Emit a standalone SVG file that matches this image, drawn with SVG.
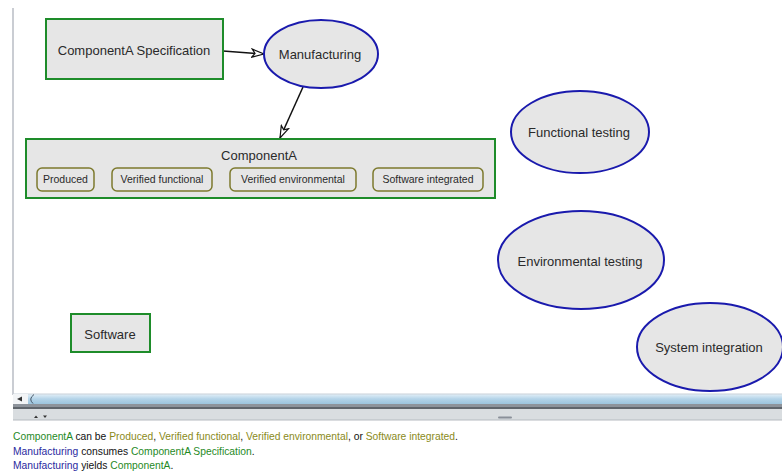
<svg xmlns="http://www.w3.org/2000/svg" width="782" height="475" viewBox="0 0 782 475">
<defs>
<style>
.obj{fill:#e6e6e6;stroke:#1e8c2a;stroke-width:2}
.proc{fill:#e6e6e6;stroke:#1a1aad;stroke-width:2}
.state{fill:#e6e6e6;stroke:#7d7a2e;stroke-width:1.5}
.lbl{font-family:"Liberation Sans",Arial,sans-serif;font-size:13px;fill:#2a2a2a;text-anchor:middle}
.slbl{font-family:"Liberation Sans",Arial,sans-serif;font-size:10.5px;fill:#2a2a2a;text-anchor:middle}
.link{stroke:#111;stroke-width:1.5;fill:none}
.opl{font-family:"Liberation Sans",Arial,sans-serif;font-size:10.3px;fill:#111}
.g{fill:#1f8a1f}.b{fill:#2a2aa0}.o{fill:#8a8a1a}
</style>
<marker id="ah" viewBox="0 0 14 10" refX="13" refY="5" markerWidth="14" markerHeight="10" markerUnits="userSpaceOnUse" orient="auto">
<path d="M1,1 L13,5 L1,9 L4,5 Z" fill="#fff" stroke="#111" stroke-width="1.2"/>
</marker>
<linearGradient id="sb" x1="0" y1="0" x2="0" y2="1">
<stop offset="0" stop-color="#e4f0f8"/>
<stop offset="0.5" stop-color="#b3d3e8"/>
<stop offset="1" stop-color="#9cc4dd"/>
</linearGradient>
</defs>
<rect width="782" height="475" fill="#fff"/>
<line x1="13" y1="8" x2="13" y2="395" stroke="#b8bcc4" stroke-width="1.5"/>
<g id="connectors">
<line class="link" x1="223" y1="51" x2="264" y2="54" marker-end="url(#ah)"/>
<line class="link" x1="303" y1="87" x2="280" y2="138" marker-end="url(#ah)"/>
</g>
<g id="componentA-spec">
<rect class="obj" x="46" y="19" width="177" height="60"/>
<text class="lbl" x="134" y="55">ComponentA Specification</text>
</g>
<g id="manufacturing">
<ellipse class="proc" cx="321" cy="54" rx="57" ry="34"/>
<text class="lbl" x="320" y="59">Manufacturing</text>
</g>
<g id="componentA">
<rect class="obj" x="26" y="139" width="469" height="59"/>
<text class="lbl" x="259" y="160">ComponentA</text>
<g id="state-produced">
<rect class="state" x="37" y="168" width="57" height="23" rx="5"/>
<text class="slbl" x="65.5" y="183">Produced</text>
</g>
<g id="state-verified-functional">
<rect class="state" x="112" y="168" width="100" height="23" rx="5"/>
<text class="slbl" x="162" y="183">Verified functional</text>
</g>
<g id="state-verified-environmental">
<rect class="state" x="230" y="168" width="126" height="23" rx="5"/>
<text class="slbl" x="293" y="183">Verified environmental</text>
</g>
<g id="state-software-integrated">
<rect class="state" x="373" y="168" width="110" height="23" rx="5"/>
<text class="slbl" x="428" y="183">Software integrated</text>
</g>
</g>
<g id="functional-testing">
<ellipse class="proc" cx="580" cy="132" rx="69" ry="41"/>
<text class="lbl" x="579" y="137">Functional testing</text>
</g>
<g id="environmental-testing">
<ellipse class="proc" cx="581" cy="260" rx="83" ry="49"/>
<text class="lbl" x="580" y="266">Environmental testing</text>
</g>
<g id="system-integration">
<ellipse class="proc" cx="710" cy="347" rx="73" ry="44"/>
<text class="lbl" x="709" y="352">System integration</text>
</g>
<g id="software">
<rect class="obj" x="71" y="314" width="79" height="38"/>
<text class="lbl" x="110" y="339">Software</text>
</g>
<g id="scrollbar">
<rect x="13" y="394" width="769" height="10" fill="url(#sb)"/>
<line x1="13" y1="394" x2="782" y2="394" stroke="#c8d0d8"/>
<rect x="13" y="394" width="15" height="10" fill="#f2f4f6"/>
<path d="M17,399 L22,396.5 L22,401.5 Z" fill="#333"/>
<path d="M34,394.5 Q28,399 33,403.5" fill="none" stroke="#456" stroke-width="1"/>
<rect x="13" y="404" width="769" height="3" fill="#8d939b"/>
<rect x="13" y="407" width="769" height="2" fill="#5f656c"/>
<rect x="13" y="409" width="769" height="11" fill="#d9dde0"/>
<line x1="13" y1="420" x2="782" y2="420" stroke="#b5bac0"/>
<path d="M34,418 L36,415.5 L38,418 Z M43,415.5 L47,415.5 L45,418 Z" fill="#333"/>
<rect x="498" y="416.5" width="14" height="2" rx="1" fill="#8a9099"/>
</g>
<g id="opl">
<text class="opl" x="13" y="440"><tspan class="g">ComponentA</tspan> can be <tspan class="o">Produced</tspan>, <tspan class="o">Verified functional</tspan>, <tspan class="o">Verified environmental</tspan>, or <tspan class="o">Software integrated</tspan>.</text>
<text class="opl" x="13" y="455"><tspan class="b">Manufacturing</tspan> consumes <tspan class="g">ComponentA Specification</tspan>.</text>
<text class="opl" x="13" y="469"><tspan class="b">Manufacturing</tspan> yields <tspan class="g">ComponentA</tspan>.</text>
</g>
</svg>
